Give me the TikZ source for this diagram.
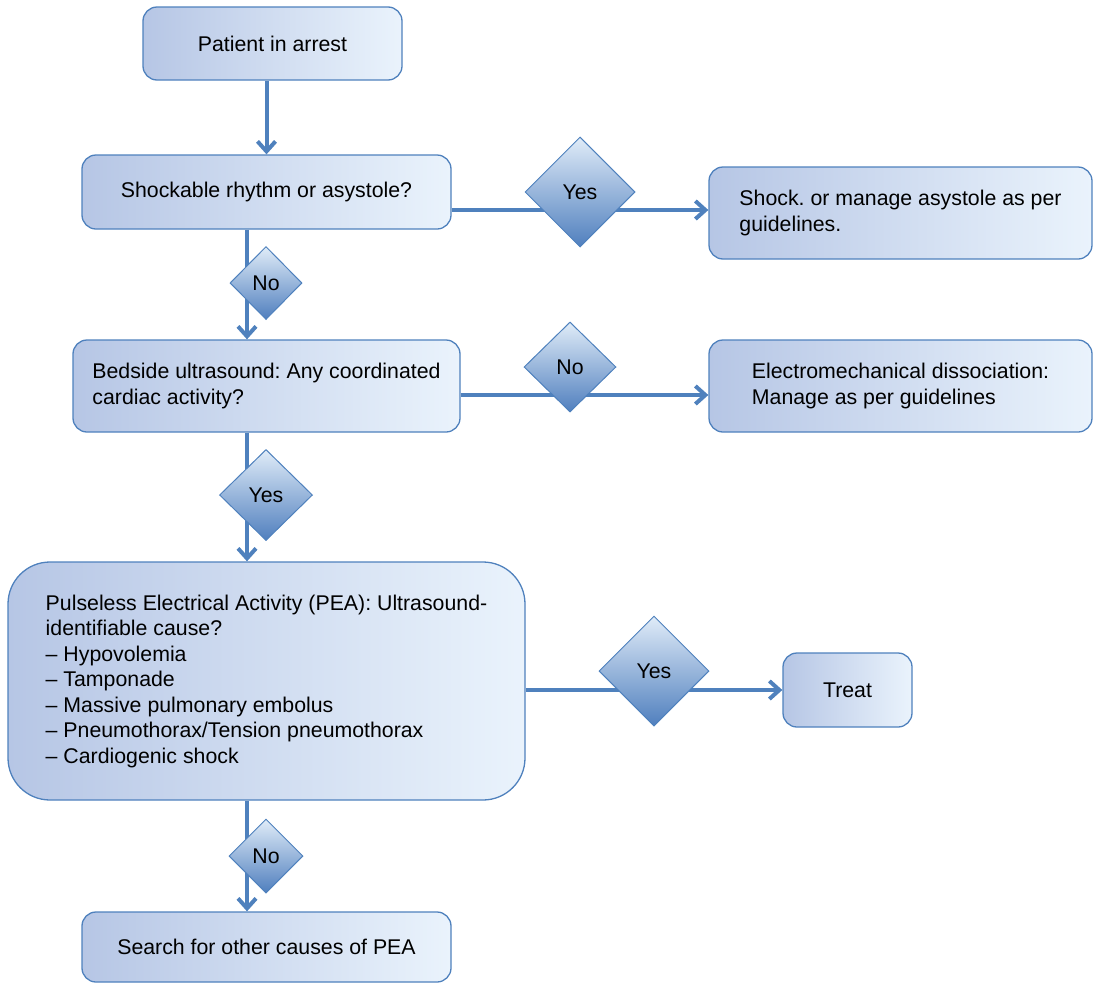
\documentclass[tikz,border=0pt]{standalone}
\usepackage{fontspec}
\setmainfont{Liberation Sans}
\usepackage{xcolor}
\usepackage{tikz}
\usetikzlibrary{shapes.geometric,arrows.meta}

\definecolor{edgeblue}{RGB}{79,129,189}
\definecolor{boxleft}{RGB}{182,198,229}
\definecolor{boxright}{RGB}{234,243,252}
\definecolor{diatop}{RGB}{224,236,248}
\definecolor{diabot}{RGB}{80,127,190}

\frenchspacing

\begin{document}
\begin{tikzpicture}[
        x=1pt, y=-1pt,
        font=\fontsize{21.3}{25.5}\selectfont,
        % Box styles
        stepbox/.style={rectangle, rounded corners=14pt, draw=edgeblue, line width=1.3pt,
            left color=boxleft, right color=boxright, align=left, inner sep=0pt},
        choice/.style={diamond, draw=edgeblue, line width=1pt,
            top color=diatop, bottom color=diabot, inner sep=0pt},
        % Arrow style
        flow/.style={draw=edgeblue, line width=4pt, -{Straight Barb[length=10pt,width=18pt]}}
    ]
    \useasboundingbox (0,0) rectangle (1093,983);

    % Main column
    \node[stepbox, minimum width=259pt, minimum height=73pt] (arrest) at (272.5,43.5) {Patient in arrest};
    \node[stepbox, minimum width=369pt, minimum height=74pt] (rhythm) at (266.5,192) {Shockable rhythm or asystole?};
    \node[stepbox, minimum width=387pt, minimum height=92pt] (echo) at (266.5,386)
        {Bedside ultrasound: Any coordinated\\cardiac activity?};
    \node[stepbox, rounded corners=42pt, minimum width=517pt, minimum height=238pt] (pea) at (266.5,681)
        {Pulseless Electrical Activity (PEA): Ultrasound-\\identifiable cause?\\
         \textendash{} Hypovolemia\\\textendash{} Tamponade\\\textendash{} Massive pulmonary embolus\\
         \textendash{} Pneumothorax/Tension pneumothorax\\\textendash{} Cardiogenic shock};
    \node[stepbox, minimum width=369pt, minimum height=70pt] (search) at (266.5,947) {Search for other causes of PEA};

    % Right column
    \node[stepbox, minimum width=383pt, minimum height=92pt] (shock) at (900.5,213)
        {Shock. or manage asystole as per\\guidelines.};
    \node[stepbox, minimum width=383pt, minimum height=92pt] (emd) at (900.5,386)
        {Electromechanical dissociation:\\Manage as per guidelines};
    \node[stepbox, minimum width=129pt, minimum height=74pt] (treat) at (847.5,690) {Treat};

    % Arrows
    \draw[flow] (arrest.south -| rhythm.north) -- (rhythm.north);
    \draw[flow] ([yshift=-18pt]rhythm.east) -- ([yshift=-18pt]rhythm.east -| shock.west);
    \draw[flow] ([xshift=-19.5pt]rhythm.south) -- ([xshift=-19.5pt]rhythm.south |- echo.north);
    \draw[flow] ([yshift=-9pt]echo.east) -- ([yshift=-9pt]echo.east -| emd.west);
    \draw[flow] ([xshift=-19.5pt]echo.south) -- ([xshift=-19.5pt]echo.south |- pea.north);
    \draw[flow] (pea.east |- treat.west) -- (treat.west);
    \draw[flow] ([xshift=-19.5pt]pea.south) -- ([xshift=-19.5pt]pea.south |- search.north);

    % Decision diamonds on top of the arrows
    \node[choice, minimum width=110pt, minimum height=110pt] (yesshock) at (580,192) {Yes};
    \node[choice, minimum width=72pt, minimum height=73pt] (norhythm) at (266,283) {No};
    \node[choice, minimum width=92pt, minimum height=90pt] (noactivity) at (570,367) {No};
    \node[choice, minimum width=93pt, minimum height=91pt] (yesactivity) at (266,495) {Yes};
    \node[choice, minimum width=110pt, minimum height=110pt] (yescause) at (654,671) {Yes};
    \node[choice, minimum width=74pt, minimum height=74pt] (nocause) at (266,856) {No};

\end{tikzpicture}
\end{document}
